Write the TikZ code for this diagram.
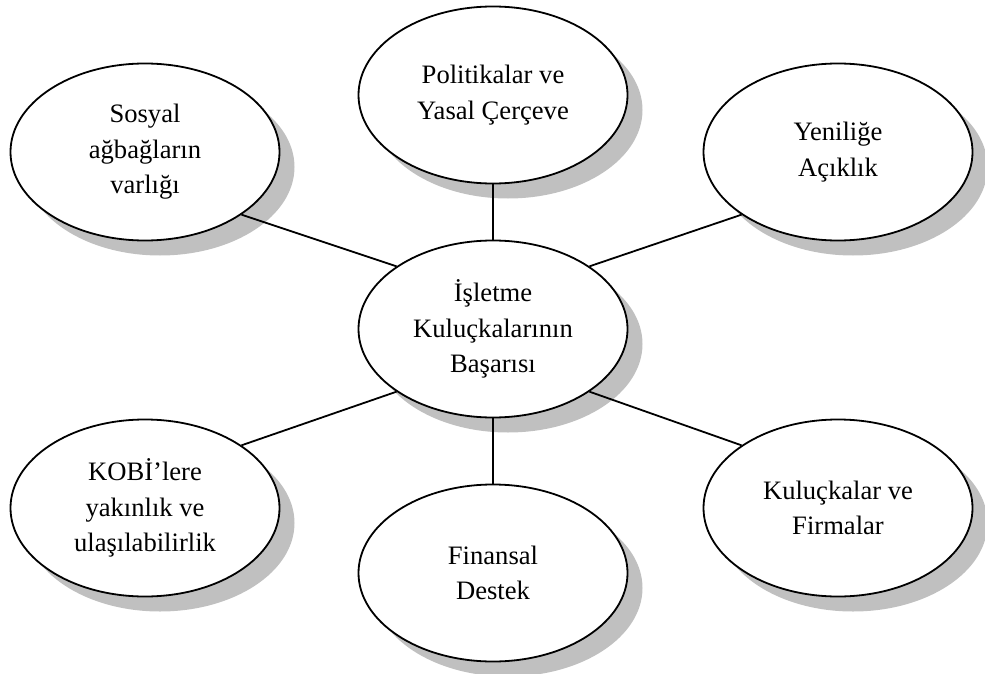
\documentclass[tikz,border=0pt]{standalone}
\usepackage{fontspec}
\setmainfont{Liberation Serif}
\usetikzlibrary{shapes.geometric,shadows}
\definecolor{shadowgray}{RGB}{192,192,192}
\begin{document}
\begin{tikzpicture}[x=1pt,y=-1pt,
  bubble/.style={ellipse, draw=black, line width=1.8pt, fill=white,
    minimum width=269pt, minimum height=177pt, inner sep=0pt, align=center,
    font=\fontsize{26.6}{35.5}\selectfont,
    drop shadow={shadow xshift=15pt, shadow yshift=-15pt, fill=shadowgray, opacity=1}},
  link/.style={line width=1.8pt}]
\useasboundingbox (0,0) rectangle (985,674);

% central concept
\node[bubble] (cen) at (493,329) {İşletme\\Kuluçkalarının\\Başarısı};

% surrounding factors
\node[bubble] (pol) at (493,95)  {Politikalar ve\\Yasal Çerçeve};
\node[bubble] (sos) at (145,152) {Sosyal\\ağbağların\\varlığı};
\node[bubble] (yen) at (838,152) {Yeniliğe\\Açıklık};
\node[bubble] (kob) at (145,508) {KOBİ’lere\\yakınlık ve\\ulaşılabilirlik};
\node[bubble] (fin) at (493,573) {Finansal\\Destek};
\node[bubble] (kul) at (838,508) {Kuluçkalar ve\\Firmalar};

% connectors
\draw[link] (pol.south) -- (cen.north);
\draw[link] (cen.south) -- (fin.north);
\draw[link] (sos.-33) -- (cen.147);
\draw[link] (yen.-147) -- (cen.33);
\draw[link] (kob.33) -- (cen.-147);
\draw[link] (kul.147) -- (cen.-33);
\end{tikzpicture}
\end{document}
